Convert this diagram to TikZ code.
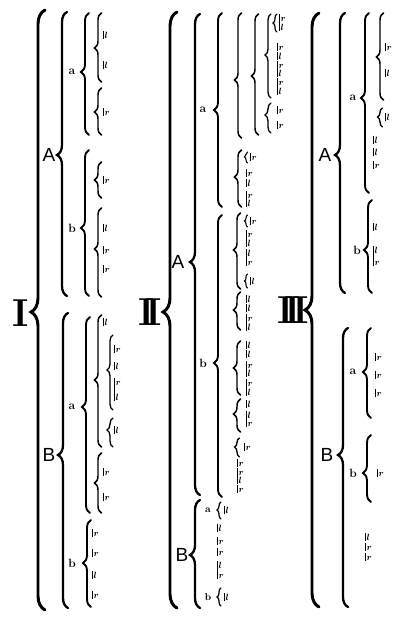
\documentclass[tikz,border=0pt]{standalone}
\usepackage{fontspec}
\usepackage{graphicx}
\newfontfamily\hel{Liberation Sans}
\usetikzlibrary{decorations.pathreplacing}
\tikzset{
 brc/.style={decorate, line cap=round},
 itm/.style={font=\fontsize{9.5}{7.5}\selectfont\boldmath, inner xsep=1.4pt, inner ysep=0.1pt, anchor=west, align=left,
   append after command={(\tikzlastnode.north west) edge[line width=0.85pt] (\tikzlastnode.south west)}},
 capl/.style={font=\hel\fontsize{19}{19}\selectfont, inner sep=0pt},
 sml/.style={font=\fontsize{12}{12}\selectfont\bfseries, inner sep=0pt},
 smlb/.style={font=\fontsize{10}{10}\selectfont\bfseries, inner sep=0pt},
 rom/.style={font=\fontsize{39}{39}\selectfont\bfseries, inner sep=0pt},
}
\newcommand\brc[6]{%
  \pgfmathsetmacro\asp{(#4-#5)/(#4-#3)}%
  \pgfmathsetmacro\lw{#6*1.35}%
  \draw[brc, line width=\lw pt, decoration={brace, amplitude=#1pt, aspect=\asp}] ({#2+#1/2},#4) -- ({#2+#1/2},#3);}
\newcommand\ione[4]{\node[itm] (#1) at (#2,#3) {\vphantom{l}$#4$};}
\newcommand\itwo[6]{\pgfmathsetmacro\tmpm{(#3+#4)/2}\pgfmathsetmacro\tmpe{#4-#3-7.5}%
  \node[itm] (#1) at (#2,\tmpm) {\vphantom{l}$#5$\\[\tmpe pt]$#6$};}
\begin{document}
\begin{tikzpicture}[x=1pt,y=-1pt]
\fill[white] (0,0) rectangle (400,621);
\useasboundingbox (0,0) rectangle (400,621);
% ---------- Column I
\node[rom] (n1) at (21,313) {I};
\brc{14}{38}{10}{610}{312}{2.2}
\node[capl] (A1) at (49,155) {A};
\brc{10}{62}{12}{296}{155}{1.7}
\node[capl] (B1) at (49,455) {B};
\brc{10}{63}{313}{608}{455}{1.7}
\node[sml] (a1) at (72,72) {a};
\brc{8}{85}{13}{135}{72}{1.4}
\brc{7}{98}{13}{82}{48}{1.1}
\ione{i1}{103}{35}{l}
\ione{i2}{103}{65}{l}
\brc{7}{98}{88}{135}{112}{1.1}
\ione{i3}{103}{112}{r}
\node[sml] (b1) at (72,228) {b};
\brc{8}{85}{150}{296}{228}{1.4}
\brc{7}{98}{162}{198}{180}{1.1}
\ione{i4}{103}{180}{r}
\brc{7}{98}{208}{297}{249}{1.1}
\ione{i5}{103}{228}{l}
\ione{i6}{103}{250}{r}
\ione{i7}{103}{269}{r}
\node[sml] (a2) at (72,407) {a};
\brc{8}{86}{317}{513}{407}{1.4}
\brc{7}{98}{315}{447}{380}{1.1}
\ione{i8}{103}{322}{l}
\brc{6}{110}{335}{410}{370}{1}
\ione{i9}{114}{349}{r}
\ione{i10}{114}{366}{l}
\itwo{i11}{114}{382}{397}{r}{l}
\brc{6}{110}{418}{447}{430}{1}
\ione{i12}{114}{430}{l}
\brc{7}{98}{453}{513}{483}{1.1}
\ione{i13}{103}{472}{r}
\ione{i14}{103}{497}{r}
\node[sml] (b2) at (72,563) {b};
\brc{8}{87}{520}{607}{563}{1.4}
\ione{i15}{92}{533}{r}
\ione{i16}{92}{553}{r}
\ione{i17}{92}{575}{l}
\ione{i18}{92}{595}{r}
% ---------- Column II
\node[rom] (n2) at (150,312) {I\kern-9pt I};
\brc{14}{170}{12}{608}{312}{2.2}
\node[capl] (A2) at (178,262) {A};
\brc{10}{195}{14}{495}{262}{1.7}
\node[capl] (B2) at (182,555) {B};
\brc{10}{195}{500}{608}{555}{1.7}
\node[sml] (a3) at (203,110) {a};
\brc{8}{218}{13}{207}{110}{1.4}
\brc{7}{238}{13}{138}{80}{1.1}
\brc{7}{255}{14}{135}{76}{1.1}
\brc{6}{268}{14}{98}{55}{1}
\brc{4}{275}{14}{32}{23}{0.9}
\itwo{j1}{279}{18}{27}{r}{l}
\ione{j2}{277}{47}{r}
\ione{j3}{277}{56}{l}
\itwo{j4}{277}{65}{73}{r}{l}
\itwo{j5}{277}{82}{91}{r}{l}
\brc{6}{268}{103}{133}{115}{1}
\ione{j6}{277}{110}{r}
\ione{j7}{277}{125}{r}
\brc{7}{238}{150}{207}{177}{1.1}
\brc{3}{246}{152}{163}{157}{0.8}
\ione{j8}{250}{157}{r}
\ione{j9}{246}{173}{r}
\ione{j10}{246}{183}{l}
\itwo{j11}{246}{195}{203}{r}{l}
\node[sml] (b3) at (203,363) {b};
\brc{8}{218}{215}{497}{363}{1.4}
\brc{7}{237}{213}{289}{250}{1.1}
\brc{3}{246}{215}{227}{221}{0.8}
\ione{j12}{250}{221}{r}
\itwo{j13}{246}{234}{243}{r}{l}
\itwo{j14}{246}{253}{262}{l}{r}
\brc{3}{246}{274}{288}{281}{0.8}
\ione{j15}{250}{281}{l}
\brc{7}{237}{292}{330}{310}{1.1}
\ione{j16}{246}{299}{l}
\ione{j17}{246}{308}{l}
\itwo{j18}{246}{318}{327}{r}{l}
\brc{7}{237}{341}{395}{368}{1.1}
\ione{j19}{246}{345}{l}
\ione{j20}{246}{354}{l}
\itwo{j21}{246}{365}{373}{r}{l}
\itwo{j22}{246}{383}{392}{r}{l}
\brc{7}{237}{399}{432}{414}{1.1}
\ione{j23}{246}{404}{l}
\itwo{j24}{246}{415}{423}{l}{r}
\brc{5}{237}{438}{457}{447}{1}
\ione{j25}{244}{447}{r}
\ione{j26}{237}{463}{r}
\itwo{j27}{237}{472}{480}{r}{l}
\ione{j28}{237}{489}{r}
\node[smlb] (a4) at (208,510) {a};
\brc{4}{219}{502}{519}{510}{0.9}
\ione{j29}{224}{510}{l}
\ione{j30}{217}{528}{l}
\ione{j31}{217}{541}{r}
\ione{j32}{217}{552}{r}
\itwo{j33}{217}{565}{575}{l}{r}
\node[smlb] (b4) at (208,597) {b};
\brc{4}{219}{588}{606}{597}{0.9}
\ione{j34}{224}{597}{l}
% ---------- Column III
\node[rom] (n3) at (293,310) {I\kern-9pt I\kern-9pt I};
\brc{14}{312}{13}{607}{310}{2.2}
\node[capl] (A3) at (325,155) {A};
\brc{10}{340}{13}{293}{155}{1.7}
\node[sml] (a5) at (353,98) {a};
\brc{8}{365}{13}{193}{98}{1.4}
\brc{7}{380}{13}{100}{57}{1.1}
\ione{k1}{385}{47}{r}
\ione{k2}{385}{73}{l}
\brc{5}{380}{108}{127}{117}{1}
\ione{k3}{385}{117}{l}
\ione{k4}{373}{140}{l}
\ione{k5}{373}{152}{l}
\ione{k6}{373}{165}{r}
\node[sml] (b5) at (357,250) {b};
\brc{8}{368}{200}{293}{250}{1.4}
\ione{k7}{373}{227}{l}
\itwo{k8}{373}{250}{262}{l}{r}
\node[capl] (B3) at (327,455) {B};
\brc{10}{343}{328}{607}{455}{1.7}
\node[sml] (a6) at (353,372) {a};
\brc{8}{367}{328}{418}{372}{1.4}
\ione{k9}{375}{357}{r}
\ione{k10}{375}{375}{r}
\ione{k11}{375}{393}{r}
\node[sml] (b6) at (353,473) {b};
\brc{8}{367}{435}{502}{473}{1.4}
\ione{k12}{377}{473}{r}
\ione{k13}{365}{537}{l}
\ione{k14}{365}{547}{r}
\ione{k15}{365}{557}{r}
\end{tikzpicture}
\end{document}
